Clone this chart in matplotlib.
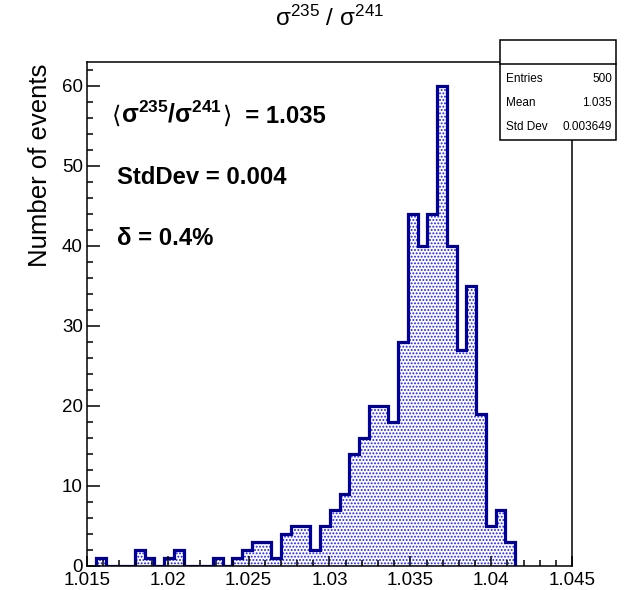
import numpy as np
import matplotlib
matplotlib.use("Agg")
import matplotlib.pyplot as plt
from matplotlib.patches import Rectangle
from matplotlib.ticker import MultipleLocator

plt.rcParams['font.family'] = ['Liberation Sans', 'DejaVu Sans']
plt.rcParams['mathtext.fontset'] = 'custom'
plt.rcParams['mathtext.rm'] = 'Liberation Sans'
plt.rcParams['mathtext.it'] = 'Liberation Sans:italic'
plt.rcParams['mathtext.bf'] = 'Liberation Sans:bold'
plt.rcParams['hatch.linewidth'] = 0.9

# histogram of sigma235/sigma241 ratio
first_edge = 1.01555
bin_width = 0.000603
counts = [1, 0, 0, 0, 2, 1, 0, 1, 2, 0, 0, 0, 1, 0, 1,
          2, 3, 3, 1, 4, 5, 5, 2, 5, 7, 9,
          14, 16, 20, 20, 18, 28, 44, 40, 44, 60, 40,
          27, 35, 19, 5, 7, 3]
edges = first_edge + bin_width * np.arange(len(counts) + 1)

stats_names = ["Entries", "Mean", "Std Dev"]
stats_values = ["500", "1.035", "0.003649"]
ratio_label = r"$\mathbf{σ^{235}/σ^{241}}$"
notes = ["StdDev = 0.004", "δ = 0.4%"]

W, H = 630, 590
fig = plt.figure(figsize=(W / 100, H / 100), dpi=100)
ax = fig.add_axes([87 / W, 1 - 566 / H, (572 - 87) / W, (566 - 62) / H])

ax.stairs(counts, edges, fill=True, facecolor='white', edgecolor='#1a1aff',
          hatch='.....', linewidth=0)
ax.stairs(counts, edges, color='#000099', linewidth=2.3)

ax.set_xlim(1.015, 1.045)
ax.set_ylim(0, max(counts) * 1.05)
ax.xaxis.set_minor_locator(MultipleLocator(0.001))
ax.yaxis.set_major_locator(MultipleLocator(10))
ax.yaxis.set_minor_locator(MultipleLocator(2))
ax.set_xticks(np.arange(1.015, 1.0451, 0.005))
ax.set_xticklabels(["1.015", "1.02", "1.025", "1.03", "1.035", "1.04", "1.045"])
ax.tick_params(axis='both', which='both', direction='in', labelsize=13.5, width=1.1)
ax.tick_params(axis='x', which='major', length=7, pad=4)
ax.tick_params(axis='x', which='minor', length=4)
ax.tick_params(axis='y', which='major', length=9.5, pad=3)
ax.tick_params(axis='y', which='minor', length=4.5)
for s in ax.spines.values():
    s.set_linewidth(1.1)

fig.text(40 / W, 1 - 165 / H, "Number of events", rotation=90, fontsize=18.5,
         ha='center', va='center')

fig.text(330 / W, 1 - 18 / H, r"$\mathregular{σ^{235}}$ / $\mathregular{σ^{241}}$",
         fontsize=17.5, ha='center', va='center')

# mean annotation built from pieces so the angle brackets can use DejaVu Sans
fs = 17.2
y0 = 1 - 123 / H
t0 = fig.text(112 / W, y0, "⟨", fontsize=fs, family='DejaVu Sans', va='baseline')
t1 = ax.annotate(ratio_label, xy=(1, y0), xycoords=(t0, 'figure fraction'),
                 fontsize=fs + 0.5, va='baseline', ha='left', annotation_clip=False)
t2 = ax.annotate("⟩", xy=(1, y0), xycoords=(t1, 'figure fraction'),
                 fontsize=fs, family='DejaVu Sans', va='baseline', ha='left',
                 annotation_clip=False)
ax.annotate("  = 1.035", xy=(1, y0), xycoords=(t2, 'figure fraction'),
            fontsize=fs, fontweight='bold', va='baseline', ha='left',
            annotation_clip=False)

for i, t in enumerate(notes):
    fig.text(117 / W, 1 - (177 + 62 * i) / H, t, fontsize=fs, fontweight='bold',
             ha='left', va='center')

# stats box
box = Rectangle((500 / W, 1 - 140 / H), 116 / W, 100 / H, transform=fig.transFigure,
                facecolor='white', edgecolor='black', linewidth=1.1, zorder=5)
fig.patches.append(box)
fig.add_artist(plt.Line2D([500 / W, 616 / W], [1 - 63.5 / H] * 2, color='black',
                          linewidth=1.1, zorder=6))
for i, (n, v) in enumerate(zip(stats_names, stats_values)):
    y = 1 - (78.5 + 24.5 * i) / H
    fig.text(506 / W, y, n, fontsize=8.5, ha='left', va='center', zorder=7)
    fig.text(612 / W, y, v, fontsize=8.5, ha='right', va='center', zorder=7)

fig.savefig("out.png", dpi=100)
